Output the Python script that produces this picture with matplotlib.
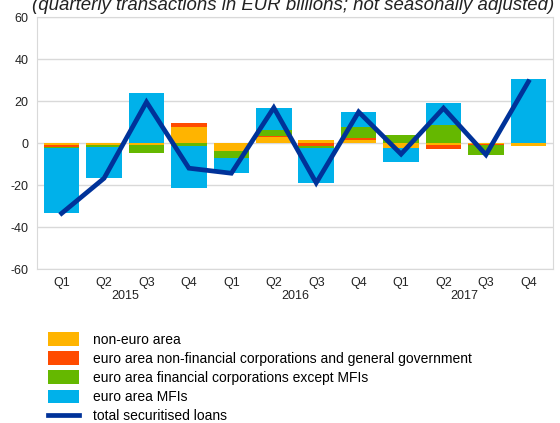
import numpy as np
import matplotlib
matplotlib.use("Agg")
from matplotlib import pyplot as plt
from matplotlib.patches import Patch
from matplotlib.lines import Line2D
import matplotlib.transforms as mtransforms

plt.rcParams['font.family'] = ['Liberation Sans', 'DejaVu Sans']
plt.rcParams['axes.unicode_minus'] = False

quarters = ['Q1', 'Q2', 'Q3', 'Q4'] * 3
years = ['2015', '2016', '2017']

# components (EUR billions)
non_euro = [-1.0, -0.8, -0.8, 7.7, -3.8, 3.0, 1.3, 1.6, -2.4, -0.8, -0.6, -1.3]
nfc_gg   = [-1.0, 0.0, 0.0, 1.9, 0.0, 0.3, -1.2, 1.0, 0.0, -1.9, -0.3, 0.0]
fin_corp = [-0.5, -1.0, -4.0, -1.3, -3.5, 2.7, -1.0, 4.8, 4.0, 8.5, -4.8, 0.0]
mfis     = [-31.0, -15.0, 24.0, -20.3, -7.2, 10.5, -17.0, 7.2, -6.7, 10.7, 0.0, 30.5]
total    = [-33.5, -16.8, 19.5, -12.0, -14.4, 16.8, -19.0, 14.8, -5.3, 16.6, -5.6, 29.2]

labels = ['non-euro area',
          'euro area non-financial corporations and general government',
          'euro area financial corporations except MFIs',
          'euro area MFIs']
colors = ['#FFB400', '#FF4B00', '#65B800', '#00B1EA']
line_color = '#003299'

fig = plt.figure(figsize=(5.6, 4.23), dpi=100)
ax = fig.add_axes([37/560, 1 - 269/423, (553 - 37)/560, (269 - 17)/423])

x = np.arange(len(quarters))
pos_base = np.zeros(len(x))
neg_base = np.zeros(len(x))
for vals, c in zip([non_euro, nfc_gg, fin_corp, mfis], colors):
    v = np.array(vals)
    p = np.where(v > 0, v, 0)
    n = np.where(v < 0, v, 0)
    ax.bar(x, p, bottom=pos_base, width=0.84, color=c, linewidth=0, zorder=2)
    ax.bar(x, n, bottom=neg_base, width=0.84, color=c, linewidth=0, zorder=2)
    pos_base += p
    neg_base += n

ax.plot(x, total, color=line_color, linewidth=3.4, zorder=3, solid_joinstyle='miter')

ax.set_xlim(-0.58, len(x) - 0.42)
ax.set_ylim(-60, 60)
ax.set_yticks(np.arange(-60, 61, 20))
ax.grid(axis='y', color='#d9d9d9', linewidth=1, zorder=0)
for s in ax.spines.values():
    s.set_color('#d9d9d9')
ax.tick_params(axis='both', length=0, labelsize=9, colors='#222222')
ax.tick_params(axis='y', pad=6)
ax.set_xticks(x)
ax.set_xticklabels(quarters)
ax.tick_params(axis='x', pad=6)

trans = mtransforms.blended_transform_factory(ax.transData, fig.transFigure)
for i, yr in enumerate(years):
    ax.text(4 * i + 1.5, 1 - 296/423, yr, transform=trans, ha='center', va='center',
            fontsize=9, color='#222222')

fig.text(0.523, 1 - 6/423, '(quarterly transactions in EUR billions; not seasonally adjusted)',
         ha='center', va='center', fontsize=13.4, style='italic', color='#222222')

handles = [Patch(color=c, linewidth=0) for c in colors]
handles.append(Line2D([0], [0], color=line_color, linewidth=3.4))
fig.legend(handles, labels + ['total securitised loans'], loc='upper left',
           bbox_to_anchor=(48/560, 1 - 332/423), frameon=False, fontsize=10,
           handlelength=2.25, handleheight=1.15, labelspacing=0.33, handletextpad=1.0,
           borderaxespad=0, borderpad=0)

fig.savefig('out.png', dpi=100)
